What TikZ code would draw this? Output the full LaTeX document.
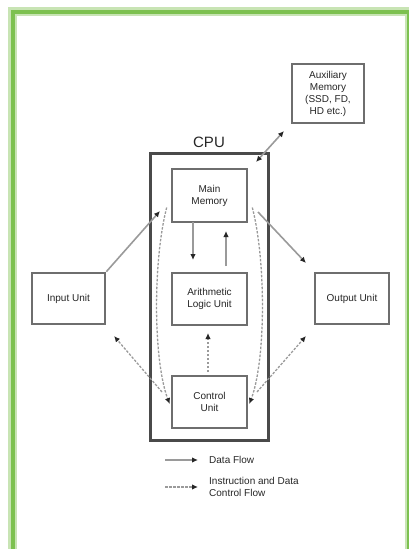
\documentclass[tikz,border=0pt]{standalone}
\usepackage{fontspec}
\setmainfont{Liberation Sans}
\usetikzlibrary{arrows.meta,calc}
\definecolor{frameg}{HTML}{7DC150}
\definecolor{frameh}{HTML}{C8E4B4}
\definecolor{boxc}{HTML}{6E6E6E}
\definecolor{cpuc}{HTML}{4A4A4A}
\definecolor{linec}{HTML}{9A9A9A}
\begin{document}
\begin{tikzpicture}[x=1pt,y=-1pt,
  unitbox/.style={draw=boxc, line width=2.6pt, fill=white, inner sep=0pt, align=center,
    font=\fontsize{10}{12}\selectfont, text=black!85},
  tipk/.style={-{Latex[length=6pt,width=5.5pt,color=black!85]}},
  dataflow/.style={draw=linec, line width=1.6pt, tipk},
  ctrlflow/.style={draw=linec, line width=1.3pt, dash pattern=on 2.5pt off 1.5pt, tipk},
  lbl/.style={font=\fontsize{10}{12}\selectfont, text=black!85, inner sep=0pt, align=left}]
\useasboundingbox (0,0) rectangle (408,549);
% green frame
\draw[frameh, line width=9pt] (12.5,11.5) rectangle (409,600);
\draw[frameg, line width=4pt] (12.5,11.5) rectangle (409,600);
% CPU
\node[draw=cpuc, line width=3pt, minimum width=118pt, minimum height=287pt, inner sep=0pt] (cpu) at (209,296.5) {};
\node[font=\fontsize{15}{16}\selectfont, text=black!85, inner sep=0pt] (cpulbl) at (209,142) {CPU};
% units
\node[unitbox, minimum width=75pt, minimum height=53pt] (mm) at (209.5,195.5) {Main\\Memory};
\node[unitbox, minimum width=75pt, minimum height=52pt] (alu) at (209.5,299) {Arithmetic\\Logic Unit};
\node[unitbox, minimum width=75pt, minimum height=52pt] (cu) at (209.5,402) {Control\\Unit};
\node[unitbox, minimum width=73pt, minimum height=51pt] (inp) at (68.5,298.5) {Input Unit};
\node[unitbox, minimum width=74pt, minimum height=51pt] (outp) at (352,298.5) {Output Unit};
\node[unitbox, minimum width=72pt, minimum height=59pt] (aux) at (328,93.5) {Auxiliary\\Memory\\(SSD, FD,\\HD etc.)};
% coordinates
\coordinate (inpTip) at (160,211);
\coordinate (outTipA) at (306,263);
\coordinate (outTipB) at (306,336);
\coordinate (inpTipB) at (114,336);
\coordinate (cuL) at (162,392);
\coordinate (cuR) at (257,392);
\coordinate (mmR) at (258,212);
\coordinate (auxA) at (256,162);
\coordinate (auxB) at (284,131);
% data flow
\draw[dataflow] (inp.north east) -- (inpTip);
\draw[dataflow] (mmR) -- (outTipA);
\draw[dataflow, {Latex[length=6pt,width=5.5pt,color=black!85]}-{Latex[length=6pt,width=5.5pt,color=black!85]}] (auxA) -- (auxB);
\draw[dataflow] (193,222) -- (193,260);
\draw[dataflow] (226,266) -- (226,231);
% control flow
\draw[ctrlflow] (208,372) -- (208,333);
\draw[ctrlflow] (cuL) -- (inpTipB);
\draw[ctrlflow] (cuR) -- (outTipB);
\draw[ctrlflow] ($(mm.west)+(-4,12)$) .. controls (153,260) and (153,360) .. ($(cu.west)+(-1,2)$);
\draw[ctrlflow] ($(mm.east)+(4,12)$) .. controls (266,260) and (266,360) .. ($(cu.east)+(1,2)$);
% legend
\coordinate (l1a) at (165,460);
\coordinate (l1b) at (198,460);
\coordinate (l2a) at (165,487);
\coordinate (l2b) at (198,487);
\draw[dataflow] (l1a) -- (l1b);
\draw[ctrlflow] (l2a) -- (l2b);
\node[lbl, anchor=west] (leg1) at (209,460) {Data Flow};
\node[lbl, anchor=west] (leg2) at (209,487) {Instruction and Data\\Control Flow};
\end{tikzpicture}
\end{document}
